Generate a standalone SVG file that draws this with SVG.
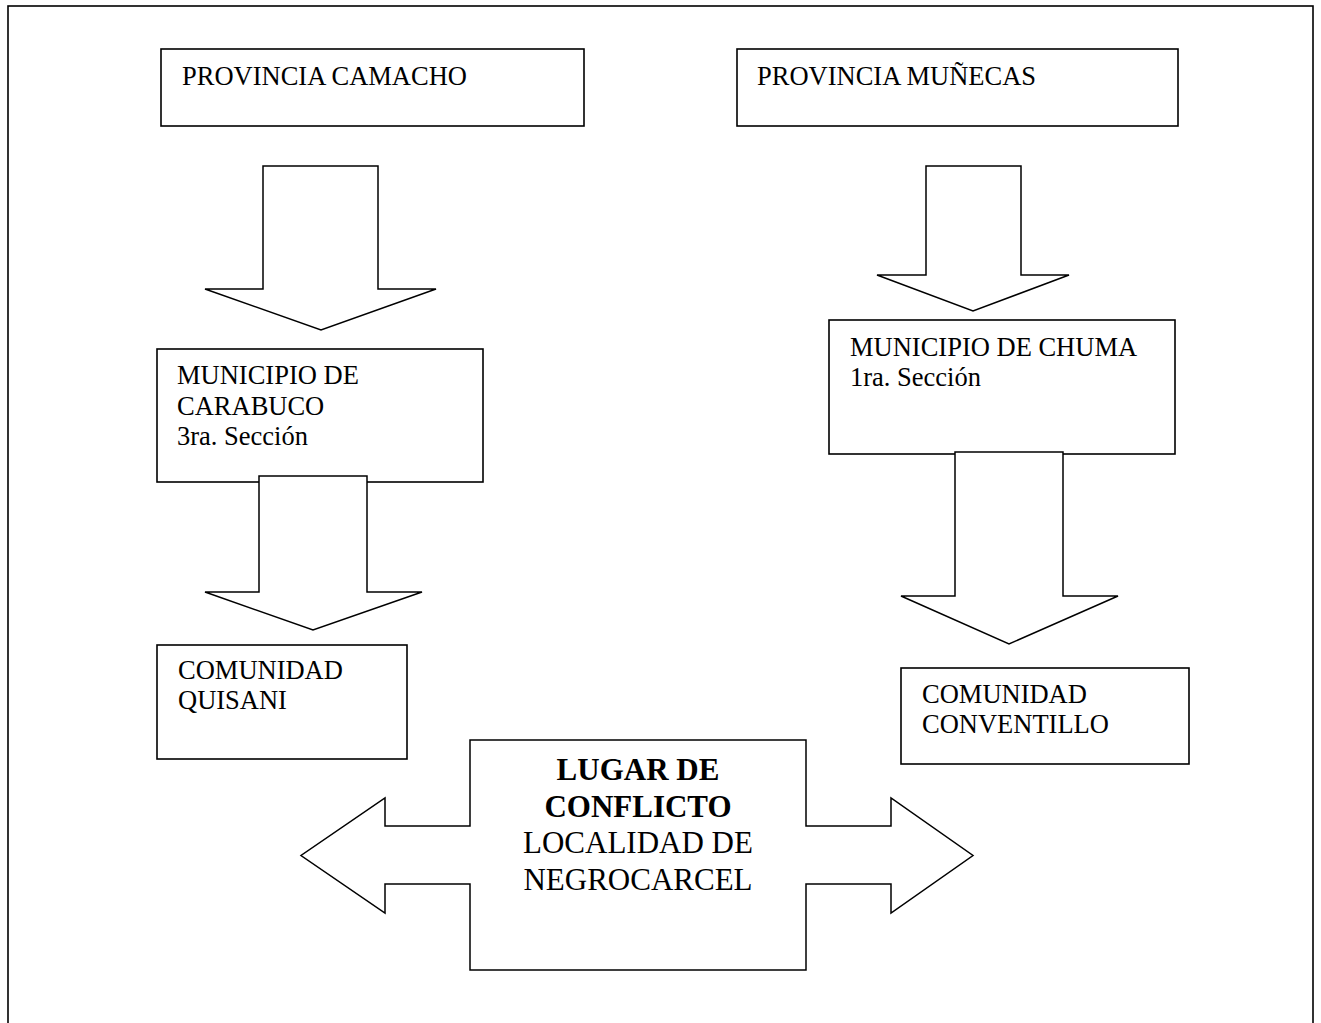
<svg xmlns="http://www.w3.org/2000/svg" width="1321" height="1023" viewBox="0 0 1321 1023">
<style>
.box{fill:#fff;stroke:#000;stroke-width:1.6}
.arr{fill:#fff;stroke:#000;stroke-width:1.5;stroke-linejoin:miter}
.t{font-family:"Liberation Serif","Times New Roman",serif;font-size:26.5px;fill:#000}
.c{font-family:"Liberation Serif","Times New Roman",serif;font-size:31px;fill:#000;text-anchor:middle}
.b{font-weight:bold}
</style>
<rect x="0" y="0" width="1321" height="1023" fill="#fff"/>
<rect id="frame" x="8" y="6" width="1305" height="1030" fill="none" stroke="#000" stroke-width="1.6"/>

<g id="prov-camacho">
<rect class="box" x="161" y="49" width="423" height="77"/>
<text class="t" x="182" y="85">PROVINCIA CAMACHO</text>
</g>
<g id="prov-munecas">
<rect class="box" x="737" y="49" width="441" height="77"/>
<text class="t" x="757" y="85">PROVINCIA MUÑECAS</text>
</g>

<g id="mun-carabuco">
<rect class="box" x="157" y="349" width="326" height="133"/>
<text class="t" x="177" y="384">MUNICIPIO DE</text>
<text class="t" x="177" y="414.5">CARABUCO</text>
<text class="t" x="177" y="445">3ra. Sección</text>
</g>
<g id="mun-chuma">
<rect class="box" x="829" y="320" width="346" height="134"/>
<text class="t" x="850" y="355.5">MUNICIPIO DE CHUMA</text>
<text class="t" x="850" y="386">1ra. Sección</text>
</g>

<g id="com-quisani">
<rect class="box" x="157" y="645" width="250" height="114"/>
<text class="t" x="178" y="679">COMUNIDAD</text>
<text class="t" x="178" y="709">QUISANI</text>
</g>
<g id="com-conventillo">
<rect class="box" x="901" y="668" width="288" height="96"/>
<text class="t" x="922" y="703">COMUNIDAD</text>
<text class="t" x="922" y="733">CONVENTILLO</text>
</g>

<g id="connectors">
<polygon class="arr" points="263,166 378,166 378,289 436,289 321,330 205,289 263,289"/>
<polygon class="arr" points="926,166 1021,166 1021,275 1069,275 973,311 877,275 926,275"/>
<polygon class="arr" points="259,476 367,476 367,592 422,592 313,630 205,592 259,592"/>
<polygon class="arr" points="955,452 1063,452 1063,596 1118,596 1009,644 901,596 955,596"/>
</g>

<g id="lugar-conflicto">
<polygon class="arr" points="470,740 806,740 806,826 891,826 891,798 973,855.5 891,913 891,884 806,884 806,970 470,970 470,884 385,884 385,913 301,855.5 385,798 385,826 470,826"/>
<text class="c b" x="638" y="780">LUGAR DE</text>
<text class="c b" x="638" y="816.5">CONFLICTO</text>
<text class="c" x="638" y="853">LOCALIDAD DE</text>
<text class="c" x="638" y="889.5">NEGROCARCEL</text>
</g>
</svg>
